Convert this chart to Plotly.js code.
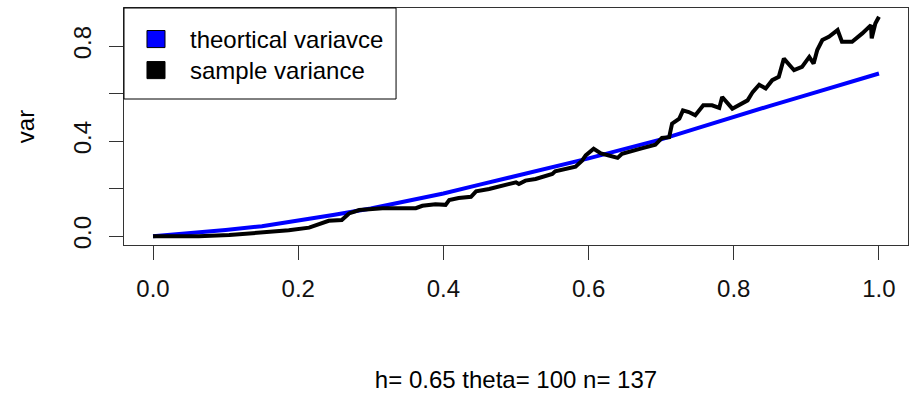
<!DOCTYPE html>
<html>
<head>
<meta charset="utf-8">
<script src="https://cdn.plot.ly/plotly-3.0.1.min.js"></script>
<style>html,body{margin:0;padding:0;background:#fff;}#chart{width:910px;height:399px;}</style>
</head>
<body>
<div id="chart"></div>
<script>
// Theoretical variance curve
const theoX = [0.00, 0.05, 0.10, 0.15, 0.20, 0.25, 0.30, 0.35, 0.40, 0.45, 0.50,
               0.55, 0.60, 0.65, 0.70, 0.75, 0.80, 0.85, 0.90, 0.95, 1.00];
const theoY = [0.000, 0.011, 0.026, 0.042, 0.064, 0.090, 0.117, 0.147, 0.180, 0.217, 0.253,
               0.289, 0.328, 0.368, 0.408, 0.455, 0.503, 0.549, 0.594, 0.640, 0.685];

// Sample variance
const sampX = [0.000, 0.022, 0.063, 0.105, 0.132, 0.160, 0.187, 0.215, 0.229, 0.242,
               0.260, 0.270, 0.284, 0.316, 0.362, 0.371, 0.389, 0.403, 0.408, 0.421,
               0.438, 0.445, 0.463, 0.477, 0.490, 0.500, 0.504, 0.513, 0.527, 0.541,
               0.550, 0.554, 0.568, 0.582, 0.591, 0.596, 0.607, 0.617, 0.628, 0.640,
               0.646, 0.660, 0.673, 0.692, 0.701, 0.711, 0.715, 0.725, 0.730, 0.738,
               0.747, 0.758, 0.770, 0.780, 0.784, 0.798, 0.807, 0.819, 0.826, 0.835,
               0.844, 0.853, 0.862, 0.869, 0.883, 0.894, 0.904, 0.910, 0.915, 0.922,
               0.931, 0.943, 0.949, 0.963, 0.977, 0.989, 0.990, 0.995, 1.000];
const sampY = [0.000, 0.000, 0.000, 0.005, 0.011, 0.018, 0.025, 0.036, 0.051, 0.065,
               0.068, 0.096, 0.110, 0.118, 0.118, 0.128, 0.135, 0.132, 0.152, 0.161,
               0.166, 0.189, 0.199, 0.208, 0.217, 0.227, 0.220, 0.234, 0.241, 0.255,
               0.262, 0.273, 0.283, 0.293, 0.318, 0.340, 0.368, 0.349, 0.340, 0.330,
               0.347, 0.361, 0.370, 0.385, 0.414, 0.417, 0.474, 0.495, 0.530, 0.523,
               0.509, 0.551, 0.551, 0.540, 0.586, 0.537, 0.551, 0.572, 0.607, 0.638,
               0.622, 0.657, 0.671, 0.748, 0.699, 0.713, 0.755, 0.727, 0.784, 0.826,
               0.840, 0.868, 0.819, 0.819, 0.854, 0.889, 0.833, 0.896, 0.924];

const xTicks = [0, 0.2, 0.4, 0.6, 0.8, 1.0];
const xTickText = ['0.0', '0.2', '0.4', '0.6', '0.8', '1.0'];
const yTicks = [0, 0.2, 0.4, 0.6, 0.8];
const yTickText = ['0.0', '', '0.4', '', '0.8'];
const seriesNames = ['theortical variavce', 'sample variance'];
const seriesColors = ['#0000ff', '#000000'];
const titleText = 'h= 0.65 theta= 100 n= 137';

const FONT = 'Liberation Sans, Arial, sans-serif';

const traces = [
  {x: theoX, y: theoY, mode: 'lines', line: {color: seriesColors[0], width: 4}, name: seriesNames[0]},
  {x: sampX, y: sampY, mode: 'lines', line: {color: seriesColors[1], width: 4}, name: seriesNames[1]}
];

// Legend box drawn R-style (paper coordinates of the plot area)
const shapes = [
  {type: 'rect', xref: 'paper', yref: 'paper', x0: 0, x1: 0.347, y0: 0.616, y1: 1,
   line: {color: '#000', width: 1}, fillcolor: '#fff', layer: 'above'}
];
const annotations = [];
const rowY = [0.869, 0.738];
seriesNames.forEach((nm, i) => {
  shapes.push({type: 'rect', xref: 'paper', yref: 'paper', x0: 0.0293, x1: 0.0523,
               y0: rowY[i] - 0.036, y1: rowY[i] + 0.036,
               line: {color: '#000', width: 1}, fillcolor: seriesColors[i], layer: 'above'});
  annotations.push({xref: 'paper', yref: 'paper', x: 0.0816, y: rowY[i], xanchor: 'left',
                    yanchor: 'middle', text: nm, showarrow: false,
                    font: {family: FONT, size: 24, color: '#000'}});
});

const layout = {
  width: 910, height: 399,
  margin: {l: 124, r: 2, t: 8, b: 154, pad: 0},
  paper_bgcolor: '#fff', plot_bgcolor: '#fff',
  font: {family: FONT, size: 24, color: '#000'},
  showlegend: false,
  shapes: shapes,
  annotations: annotations,
  xaxis: {range: [-0.04, 1.04], tickvals: xTicks, ticktext: xTickText, ticks: 'outside',
          ticklen: 14, tickcolor: '#333', tickwidth: 1, showgrid: false, zeroline: false,
          showline: true, linecolor: '#333', linewidth: 1, mirror: true,
          tickfont: {family: FONT, size: 24, color: '#111'}, ticklabelstandoff: 8,
          title: {text: titleText, font: {family: FONT, size: 24, color: '#000'}, standoff: 70}},
  yaxis: {range: [-0.037, 0.961], tickvals: yTicks, ticktext: yTickText, ticks: 'outside',
          ticklen: 14, tickcolor: '#333', tickwidth: 1, showgrid: false, zeroline: false,
          showline: true, linecolor: '#333', linewidth: 1, mirror: true, tickangle: -90,
          tickfont: {family: FONT, size: 24, color: '#111'}, ticklabelstandoff: 8,
          title: {text: 'var', font: {family: FONT, size: 24, color: '#000'}, standoff: 28}}
};

Plotly.newPlot('chart', traces, layout, {displayModeBar: false, staticPlot: true});
</script>
</body>
</html>
